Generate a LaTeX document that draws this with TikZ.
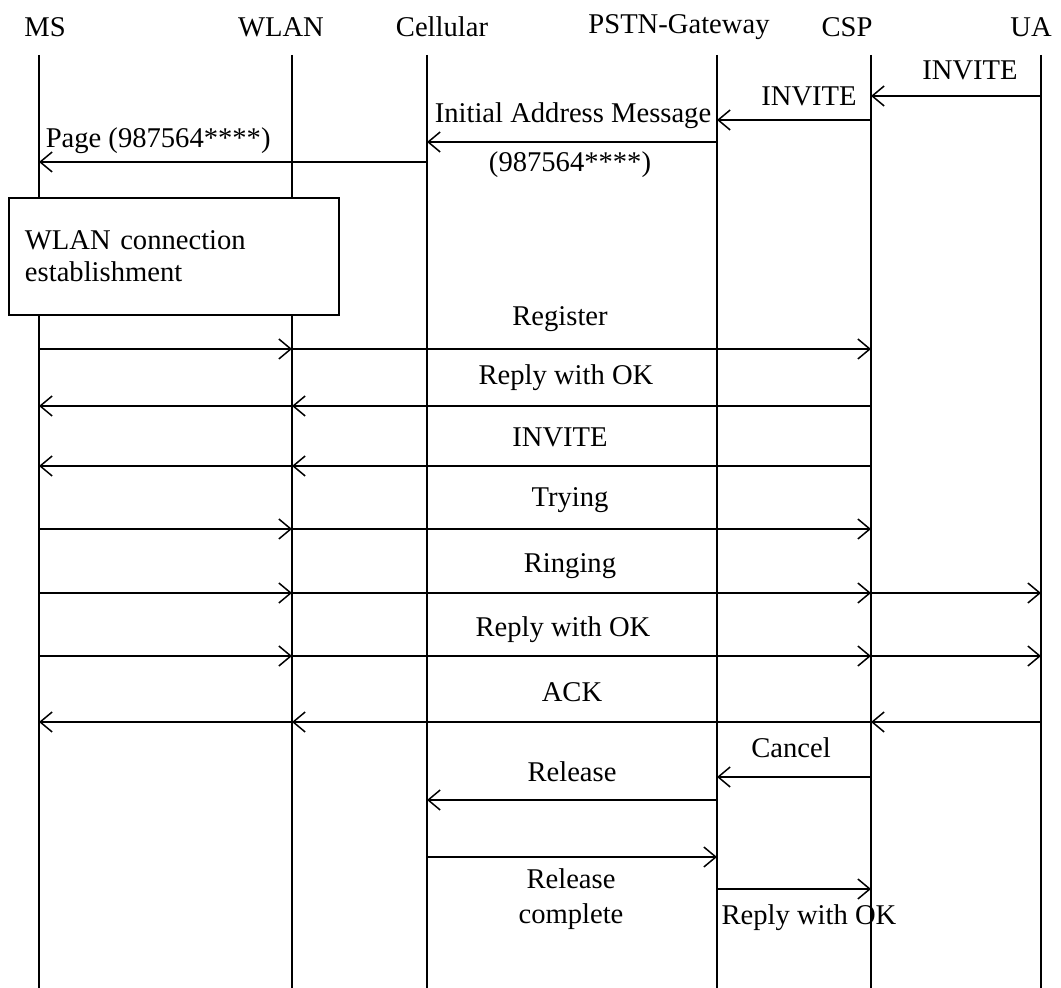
\documentclass[tikz,border=0pt]{standalone}
\usepackage{fontspec}
\setmainfont{Liberation Serif}
\usetikzlibrary{arrows.meta}

\begin{document}
\begin{tikzpicture}[
    x=0.5pt,
    y=-0.5pt,
    line width=0.75pt,
    head/.style={
        font=\fontsize{14.3pt}{17pt}\selectfont,
        inner sep=0pt
    },
    lbl/.style={
        font=\fontsize{14.3pt}{17pt}\selectfont,
        inner sep=0pt,
        align=center
    },
    msg/.style={
        -{Straight Barb[length=6pt,width=10pt]}
    },
    estbox/.style={
        rectangle,
        draw,
        fill=white,
        minimum width=165pt,
        minimum height=58.5pt,
        text width=149pt,
        inner xsep=8pt,
        align=left,
        font=\fontsize{14.3pt}{16pt}\selectfont
    }
]

\useasboundingbox (0,0) rectangle (1061,988);

% entities
\node[head] (ms) at (45,27) {MS};
\node[head] (wlan) at (281,27) {WLAN};
\node[head] (cellular) at (442,27) {Cellular};
\node[head] (pstn) at (679,27) {PSTN-Gateway};
\node[head] (csp) at (847,27) {CSP};
\node[head] (ua) at (1031,27) {UA};

% lifelines
\coordinate (msl) at (39,55);
\coordinate (wlanl) at (292,55);
\coordinate (celll) at (427,55);
\coordinate (pstnl) at (717,55);
\coordinate (cspl) at (871,55);
\coordinate (ual) at (1041,55);
\coordinate (bot) at (0,988);

\foreach \l in {msl,wlanl,celll,pstnl,cspl,ual}
    \draw (\l) -- (\l |- bot);

% message rows
\foreach \n/\y in {inva/96, invb/120, iam/142, page/162, reg/349, okb/406,
                   invc/466, trying/529, ringing/593, okc/656, ack/722,
                   cancel/777, rel/800, relc/857, okd/889}
    \coordinate (\n) at (0,\y);

\draw[msg] (ual |- inva) -- (cspl |- inva);
\draw[msg] (cspl |- invb) -- (pstnl |- invb);
\draw[msg] (pstnl |- iam) -- (celll |- iam);
\draw[msg] (celll |- page) -- (msl |- page);

\node[estbox] (est) at (174,256.5)
{WLAN connection\\establishment};

\draw[msg] (msl |- reg) -- (wlanl |- reg);
\draw[msg] (wlanl |- reg) -- (cspl |- reg);

\draw[msg] (cspl |- okb) -- (wlanl |- okb);
\draw[msg] (wlanl |- okb) -- (msl |- okb);

\draw[msg] (cspl |- invc) -- (wlanl |- invc);
\draw[msg] (wlanl |- invc) -- (msl |- invc);

\draw[msg] (msl |- trying) -- (wlanl |- trying);
\draw[msg] (wlanl |- trying) -- (cspl |- trying);

\draw[msg] (msl |- ringing) -- (wlanl |- ringing);
\draw[msg] (wlanl |- ringing) -- (cspl |- ringing);
\draw[msg] (cspl |- ringing) -- (ual |- ringing);

\draw[msg] (msl |- okc) -- (wlanl |- okc);
\draw[msg] (wlanl |- okc) -- (cspl |- okc);
\draw[msg] (cspl |- okc) -- (ual |- okc);

\draw[msg] (ual |- ack) -- (cspl |- ack);
\draw[msg] (cspl |- ack) -- (wlanl |- ack);
\draw[msg] (wlanl |- ack) -- (msl |- ack);

\draw[msg] (cspl |- cancel) -- (pstnl |- cancel);
\draw[msg] (pstnl |- rel) -- (celll |- rel);
\draw[msg] (celll |- relc) -- (pstnl |- relc);
\draw[msg] (pstnl |- okd) -- (cspl |- okd);

% labels
\node[lbl] (linva) at (970,70) {INVITE};
\node[lbl] (linvb) at (809,96) {INVITE};
\node[lbl] (liam) at (573,116) {Initial Address Message};
\node[lbl] (liamno) at (570,165) {(987564****)};
\node[lbl, anchor=west] (lpage) at (45,141) {Page (987564****)};
\node[lbl] (lreg) at (560,319) {Register};
\node[lbl] (lokb) at (566,378) {Reply with OK};
\node[lbl] (linvc) at (560,437) {INVITE};
\node[lbl] (ltrying) at (570,500) {Trying};
\node[lbl] (lringing) at (570,566) {Ringing};
\node[lbl] (lokc) at (563,630) {Reply with OK};
\node[lbl] (lack) at (572,692) {ACK};
\node[lbl] (lcancel) at (791,748) {Cancel};
\node[lbl] (lrel) at (572,772) {Release};
\node[lbl, font=\fontsize{14.3pt}{17.5pt}\selectfont] (lrelc) at (571,899) {Release\\complete};
\node[lbl] (lokd) at (809,918) {Reply with OK};

\end{tikzpicture}
\end{document}
